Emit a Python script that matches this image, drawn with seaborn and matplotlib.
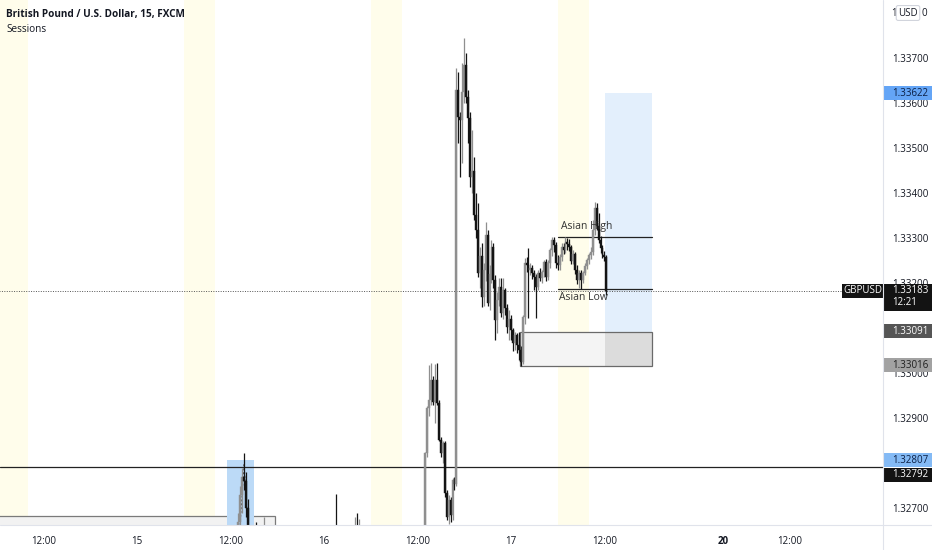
import matplotlib
matplotlib.use("Agg")
import matplotlib.pyplot as plt
import matplotlib.transforms as mtransforms
from matplotlib.lines import Line2D
from matplotlib.patches import Rectangle
import numpy as np
import pandas as pd
import seaborn as sns

sns.set_theme(style="white")
plt.rcParams["font.family"] = ["Open Sans", "DejaVu Sans"]

# Candles: time in hours since the 15th 00:00, 15-minute bars (only the visible ones)
bar_hours = [
    13.00, 13.25, 13.50, 13.75, 14.00, 14.25, 14.50, 15.25, 16.25,
    25.50, 28.00, 28.25, 28.50,
    37.00, 37.25, 37.50, 37.75, 38.00, 38.25, 38.50, 38.75, 39.00, 39.25,
    39.50, 39.75, 40.00, 40.25, 40.50, 40.75, 41.00,
    41.25, 41.50, 41.75, 42.00, 42.25, 42.50, 42.75, 43.00, 43.25, 43.50,
    43.75, 44.00, 44.25, 44.50, 44.75, 45.00, 45.25, 45.50, 45.75, 46.00,
    46.25, 46.50, 46.75, 47.00, 47.25, 47.50, 47.75, 48.00, 48.25, 48.50,
    48.75, 49.00, 49.25, 49.50, 49.75, 50.00, 50.25, 50.50, 50.75, 51.00,
    51.25, 51.50, 51.75, 52.00, 52.25, 52.50, 52.75, 53.00, 53.25, 53.50,
    53.75, 54.00, 54.25, 54.50, 54.75, 55.00, 55.25, 55.50, 55.75, 56.00,
    56.25, 56.50, 56.75, 57.00, 57.25, 57.50, 57.75, 58.00, 58.25, 58.50,
    58.75, 59.00, 59.25, 59.50, 59.75, 60.00, 60.25,
]
opens = [
    1.32620, 1.32670, 1.32730, 1.32770, 1.32760, 1.32700, 1.32640, 1.32640, 1.32620,
    1.32650, 1.32630, 1.32660, 1.32640,
    1.32640, 1.32823, 1.32923, 1.32941, 1.32985, 1.32936, 1.32985, 1.32934, 1.32852, 1.32823,
    1.32845, 1.32734, 1.32681, 1.32718, 1.32685, 1.32763, 1.32755,
    1.33630, 1.33570, 1.33563, 1.33625, 1.33685, 1.33614, 1.33567, 1.33436, 1.33450, 1.33352,
    1.33318, 1.33223, 1.33260, 1.33170, 1.33230, 1.33307, 1.33156, 1.33220, 1.33280, 1.33207,
    1.33118, 1.33163, 1.33192, 1.33134, 1.33185, 1.33145, 1.33103, 1.33120, 1.33096, 1.33067,
    1.33085, 1.33063, 1.33052, 1.33025, 1.33125, 1.33245, 1.33241, 1.33230, 1.33234, 1.33223,
    1.33214, 1.33192, 1.33223, 1.33212, 1.33226, 1.33247, 1.33214, 1.33245, 1.33274, 1.33296,
    1.33285, 1.33245, 1.33240, 1.33258, 1.33281, 1.33274, 1.33292, 1.33287, 1.33281, 1.33250,
    1.33265, 1.33230, 1.33207, 1.33222, 1.33207, 1.33223, 1.33238, 1.33252, 1.33263, 1.33270,
    1.33318, 1.33367, 1.33328, 1.33296, 1.33278, 1.33263, 1.33258,
]
highs = [
    1.32690, 1.32750, 1.32790, 1.32823, 1.32780, 1.32720, 1.32660, 1.32670, 1.32680,
    1.32732, 1.32681, 1.32690, 1.32676,
    1.32825, 1.32928, 1.33019, 1.33023, 1.32995, 1.33021, 1.33023, 1.32940, 1.32858, 1.32850,
    1.32850, 1.32740, 1.32730, 1.32725, 1.32768, 1.32770, 1.33678,
    1.33670, 1.33580, 1.33690, 1.33745, 1.33712, 1.33630, 1.33580, 1.33541, 1.33480, 1.33400,
    1.33378, 1.33280, 1.33290, 1.33245, 1.33336, 1.33318, 1.33240, 1.33296, 1.33290, 1.33218,
    1.33180, 1.33212, 1.33212, 1.33212, 1.33190, 1.33155, 1.33140, 1.33130, 1.33100, 1.33092,
    1.33090, 1.33092, 1.33060, 1.33130, 1.33256, 1.33258, 1.33278, 1.33245, 1.33240, 1.33230,
    1.33220, 1.33230, 1.33234, 1.33230, 1.33252, 1.33255, 1.33252, 1.33278, 1.33303, 1.33303,
    1.33292, 1.33263, 1.33265, 1.33290, 1.33290, 1.33303, 1.33300, 1.33298, 1.33286, 1.33274,
    1.33270, 1.33240, 1.33230, 1.33230, 1.33228, 1.33245, 1.33256, 1.33268, 1.33280, 1.33341,
    1.33380, 1.33378, 1.33356, 1.33306, 1.33285, 1.33272, 1.33262,
]
lows = [
    1.32580, 1.32640, 1.32690, 1.32740, 1.32680, 1.32620, 1.32520, 1.32580, 1.32590,
    1.32620, 1.32610, 1.32620, 1.32610,
    1.32620, 1.32815, 1.32905, 1.32930, 1.32930, 1.32889, 1.32930, 1.32850, 1.32815, 1.32800,
    1.32725, 1.32675, 1.32665, 1.32670, 1.32675, 1.32740, 1.32750,
    1.33512, 1.33436, 1.33467, 1.33600, 1.33600, 1.33512, 1.33414, 1.33400, 1.33340, 1.33300,
    1.33215, 1.33190, 1.33147, 1.33150, 1.33205, 1.33150, 1.33140, 1.33200, 1.33190, 1.33074,
    1.33090, 1.33150, 1.33125, 1.33120, 1.33130, 1.33090, 1.33074, 1.33075, 1.33050, 1.33052,
    1.33045, 1.33030, 1.33016, 1.33020, 1.33110, 1.33225, 1.33123, 1.33218, 1.33210, 1.33185,
    1.33123, 1.33185, 1.33205, 1.33200, 1.33215, 1.33205, 1.33208, 1.33235, 1.33260, 1.33270,
    1.33235, 1.33230, 1.33230, 1.33250, 1.33265, 1.33268, 1.33275, 1.33272, 1.33242, 1.33243,
    1.33220, 1.33198, 1.33190, 1.33187, 1.33200, 1.33218, 1.33232, 1.33244, 1.33255, 1.33262,
    1.33308, 1.33318, 1.33290, 1.33268, 1.33256, 1.33250, 1.33174,
]
closes = [
    1.32670, 1.32730, 1.32770, 1.32760, 1.32700, 1.32640, 1.32550, 1.32620, 1.32650,
    1.32640, 1.32660, 1.32640, 1.32660,
    1.32823, 1.32923, 1.32941, 1.32985, 1.32936, 1.32985, 1.32934, 1.32852, 1.32823, 1.32845,
    1.32734, 1.32681, 1.32718, 1.32685, 1.32763, 1.32755, 1.33630,
    1.33570, 1.33563, 1.33625, 1.33685, 1.33614, 1.33567, 1.33436, 1.33450, 1.33352, 1.33318,
    1.33223, 1.33260, 1.33170, 1.33230, 1.33307, 1.33156, 1.33220, 1.33280, 1.33207, 1.33118,
    1.33163, 1.33192, 1.33134, 1.33185, 1.33145, 1.33103, 1.33120, 1.33096, 1.33067, 1.33085,
    1.33063, 1.33052, 1.33025, 1.33125, 1.33245, 1.33241, 1.33230, 1.33234, 1.33223, 1.33214,
    1.33192, 1.33223, 1.33212, 1.33226, 1.33247, 1.33214, 1.33245, 1.33274, 1.33296, 1.33285,
    1.33245, 1.33240, 1.33258, 1.33281, 1.33274, 1.33292, 1.33287, 1.33281, 1.33250, 1.33265,
    1.33230, 1.33207, 1.33222, 1.33207, 1.33223, 1.33238, 1.33252, 1.33263, 1.33270, 1.33318,
    1.33367, 1.33328, 1.33296, 1.33278, 1.33263, 1.33258, 1.33183,
]

# Session highlight (06:00-10:00 each day)
session_starts = [-18.0, 6.0, 30.0, 54.0]
session_hours = 4.0

# Time axis
tick_hours = [-12, 0, 12, 24, 36, 48, 60, 75.25, 83.75]
tick_labels = ["12:00", "15", "12:00", "16", "12:00", "17", "12:00", "20", "12:00"]

# Price axis (1.328 and 1.331 sit fully under tags, so they are left out)
price_ticks = [1.327, 1.329, 1.330, 1.332, 1.333, 1.334, 1.335, 1.336, 1.337]

# Drawings
last_price = 1.33183
countdown = "12:21"
level_line = 1.32792
asian_high = 1.33303
asian_low = 1.33187
asian_span = (54.0, 66.1)
proj_box = (60.1, 66.1, 1.33016, 1.33622)        # t0, t1, low, high
gap_box = (49.15, 66.1, 1.33016, 1.33091)
early_box = (11.55, 15.05, 1.32600, 1.32807)
left_box = (-20.0, 17.7, 1.32600, 1.32684)
peak_path_t = [13.2, 13.75, 14.25]
peak_path_p = [1.32655, 1.32800, 1.32655]

UP_COLOR = "#8f8f8f"
DOWN_COLOR = "#141414"
TEXT_COLOR = "#131722"
BORDER = "#e0e3eb"

W, H = 932, 550
PLOT_W, PLOT_H = 883, 525
fig = plt.figure(figsize=(W / 100, H / 100), dpi=100)
ax = fig.add_axes([0, (H - PLOT_H) / H, PLOT_W / W, PLOT_H / H])
ax.set_xlim(-17.59, 95.76)
ax.set_ylim(1.326629, 1.338296)
PX = (1.338296 - 1.326629) / PLOT_H  # price per pixel

for s in ax.spines.values():
    s.set_visible(False)
ax.grid(False)

# Session bands
for t0 in session_starts:
    ax.axvspan(t0, t0 + session_hours, color="#fffdeb", lw=0, zorder=0)

# Boxes
ax.add_patch(Rectangle((left_box[0], left_box[2]), left_box[1] - left_box[0], left_box[3] - left_box[2],
                       fc="#f2f2f2", ec="#7a7a7a", lw=0.9, zorder=1))
ax.add_patch(Rectangle((early_box[0], early_box[2]), early_box[1] - early_box[0], early_box[3] - early_box[2],
                       fc="#bcdaf7", ec="none", zorder=1.2))
ax.add_patch(Rectangle((proj_box[0], proj_box[2]), proj_box[1] - proj_box[0], proj_box[3] - proj_box[2],
                       fc="#e3effc", ec="none", zorder=1))
ax.add_patch(Rectangle((gap_box[0], gap_box[2]), proj_box[0] - gap_box[0], gap_box[3] - gap_box[2],
                       fc="#f4f4f4", ec="none", zorder=1.1))
ax.add_patch(Rectangle((proj_box[0], gap_box[2]), gap_box[1] - proj_box[0], gap_box[3] - gap_box[2],
                       fc="#dcdcdc", ec="none", zorder=1.1))
ax.add_patch(Rectangle((gap_box[0], gap_box[2]), gap_box[1] - gap_box[0], gap_box[3] - gap_box[2],
                       fc="none", ec="#6a6a6a", lw=0.9, zorder=1.3))

# Level lines
ax.axhline(level_line, color="#222222", lw=0.9, zorder=2)
ax.plot([-20, 90.5], [last_price, last_price], color="#555555", lw=0.7, ls=(0, (1, 1.5)), zorder=2)
ax.plot(asian_span, [asian_high, asian_high], color="#222222", lw=0.9, zorder=2)
ax.plot(asian_span, [asian_low, asian_low], color="#222222", lw=0.9, zorder=2)
ax.plot(peak_path_t, peak_path_p, color="#4a4a4a", lw=0.7, ls=(0, (2, 2)), zorder=2)

# Candles
df = pd.DataFrame({"t": bar_hours, "o": opens, "h": highs, "l": lows, "c": closes})
colors = np.where(df["c"] >= df["o"], UP_COLOR, DOWN_COLOR)
ax.vlines(df["t"], df["l"], df["h"], colors=colors, lw=0.9, zorder=3)
body = (df["c"] - df["o"]).abs().clip(lower=0.8 * PX)
ax.bar(df["t"], body, bottom=np.minimum(df["o"], df["c"]), width=0.24,
       color=colors, edgecolor=colors, lw=0.3, zorder=4)

ax.text(54.4, asian_high + 10 * PX, "Asian High", fontsize=7.5, color="#333333", va="center", zorder=5)
ax.text(54.2, asian_low - 8 * PX, "Asian Low", fontsize=7.5, color="#333333", va="center", zorder=5)

# Axes ticks
ax.set_xticks(tick_hours)
ax.set_xticklabels(tick_labels)
ax.get_xticklabels()[7].set_fontweight("bold")
ax.yaxis.tick_right()
ax.set_yticks(price_ticks)
ax.set_yticklabels([f"{p:.5f}" for p in price_ticks])
ax.tick_params(axis="x", length=0, pad=8, labelsize=7, labelcolor=TEXT_COLOR)
ax.tick_params(axis="y", length=0, pad=6.5, labelsize=7, labelcolor=TEXT_COLOR)

# Frame lines of the chart pane
fig.add_artist(Line2D([0, 1], [(H - PLOT_H) / H] * 2, color=BORDER, lw=0.8))
fig.add_artist(Line2D([PLOT_W / W] * 2, [0, 1], color=BORDER, lw=0.8))

# Price tags on the scale
blend = mtransforms.blended_transform_factory(ax.transAxes, ax.transData)
TAG_W = (W - PLOT_W) / PLOT_W


def price_tag(price, text, face, fg, shift=0, up_px=7, down_px=7):
    y = price + shift * PX
    ax.add_patch(Rectangle((1.0, y - down_px * PX), TAG_W, (up_px + down_px) * PX,
                           transform=blend, fc=face, ec="none", clip_on=False, zorder=6))
    ax.text(1.0 + 9 / PLOT_W, y, text, transform=blend, fontsize=7, color=fg,
            va="center", ha="left", clip_on=False, zorder=7)


price_tag(proj_box[3], "1.33622", "#64a5f6", "#0b1f44")
price_tag(gap_box[3], "1.33091", "#555555", "white", shift=1)
price_tag(gap_box[2], "1.33016", "#a2a2a2", "#1e1e1e", shift=1)
price_tag(early_box[3], "1.32807", "#84baf5", "#0b1f44")
price_tag(level_line, "1.32792", "#131313", "white", shift=-8)

# Last price tag (symbol + price + countdown)
price_tag(last_price, "", "#131313", "white", up_px=7, down_px=20)
ax.text(1.0 + 9 / PLOT_W, last_price, f"{last_price:.5f}", transform=blend, fontsize=7,
        color="white", va="center", clip_on=False, zorder=7)
ax.text(1.0 + 9 / PLOT_W, last_price - 12 * PX, countdown, transform=blend, fontsize=7,
        color="white", va="center", clip_on=False, zorder=7)
ax.add_patch(Rectangle((842 / PLOT_W, last_price - 7 * PX), 41 / PLOT_W, 14 * PX,
                       transform=blend, fc="#131313", ec="none", clip_on=False, zorder=6))
ax.text(862.5 / PLOT_W, last_price, "GBPUSD", transform=blend, fontsize=7, color="white",
        va="center", ha="center", clip_on=False, zorder=7)

# Currency badge at the top of the scale: "1 [USD] 0"
badge_y = 1 - 13 / PLOT_H
ax.text(1.0 + 8 / PLOT_W, badge_y, "1", transform=ax.transAxes, fontsize=7,
        color=TEXT_COLOR, va="center", clip_on=False, zorder=6)
ax.text(1.0 + 25 / PLOT_W, badge_y, "USD", transform=ax.transAxes, fontsize=7,
        color=TEXT_COLOR, va="center", ha="center", clip_on=False, zorder=7,
        bbox=dict(boxstyle="round,pad=0.2", fc="white", ec="#d1d4dc", lw=0.8))
ax.text(1.0 + 38 / PLOT_W, badge_y, "0", transform=ax.transAxes, fontsize=7,
        color=TEXT_COLOR, va="center", clip_on=False, zorder=6)

# Legend texts
fig.text(6 / W, 1 - 14 / H, "British Pound / U.S. Dollar, 15, FXCM", fontsize=7.2,
         weight="bold", color=TEXT_COLOR, va="center")
fig.text(6 / W, 1 - 29 / H, "Sessions", fontsize=7.2, color=TEXT_COLOR, va="center")

fig.savefig("out.png", dpi=100)
